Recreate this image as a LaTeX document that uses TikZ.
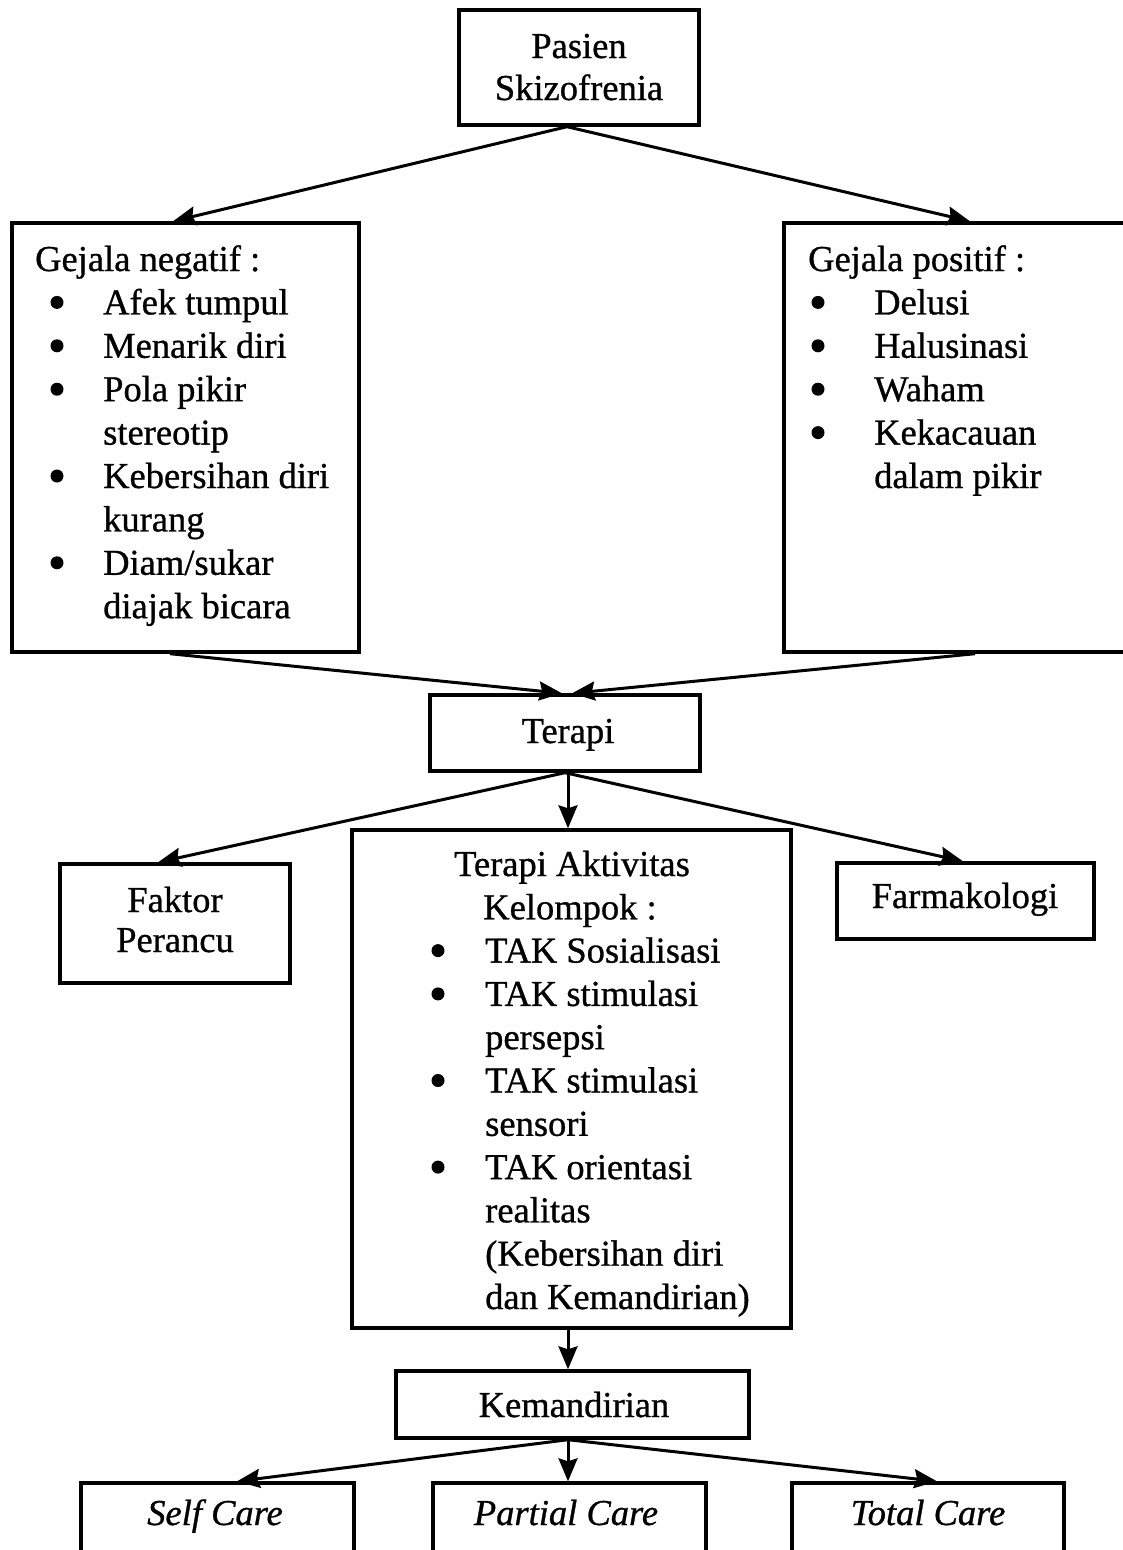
\documentclass[tikz,border=0pt]{standalone}
\usepackage{fontspec}
\setmainfont{Liberation Serif}[FakeBold=0.8]
\usetikzlibrary{arrows.meta}
\newcommand\fsz{\fontsize{36.5}{43.5}\selectfont}
\begin{document}
\begin{tikzpicture}[x=1pt,y=-1pt,
  box/.style={draw, line width=3.4pt, rectangle, inner sep=0pt},
  txt/.style={inner sep=0pt, font=\fsz},
  bul/.style={circle, fill, inner sep=0pt, minimum size=13pt},
  arr/.style={line width=3pt, -{Stealth[length=23pt,width=19pt,inset=3pt]}}]
\useasboundingbox (0,0) rectangle (1123,1550);
\clip (0,0) rectangle (1123,1550);
\fill[white] (0,0) rectangle (1123,1550);
% boxes
\node[box, minimum width=240pt, minimum height=115pt] (pas) at (579,67.5) {};
\node[box, minimum width=347pt, minimum height=429pt] (neg) at (185.5,437.5) {};
\node[box, minimum width=356pt, minimum height=429pt] (pos) at (962,437.5) {};
\node[box, minimum width=270pt, minimum height=76pt] (ter) at (565,733) {};
\node[box, minimum width=230pt, minimum height=119pt] (fak) at (175,923.5) {};
\node[box, minimum width=439pt, minimum height=498pt] (tak) at (571.5,1079) {};
\node[box, minimum width=257pt, minimum height=76pt] (far) at (965.5,901) {};
\node[box, minimum width=353pt, minimum height=67pt] (kem) at (572.5,1404.5) {};
\node[box, minimum width=273pt, minimum height=97pt] (self) at (217.5,1531.5) {};
\node[box, minimum width=273pt, minimum height=97pt] (part) at (569.5,1531.5) {};
\node[box, minimum width=272pt, minimum height=97pt] (tot) at (928,1531.5) {};
% texts
\node[txt, anchor=base] (pas1) at (579,58) {Pasien};
\node[txt, anchor=base] (pas2) at (579,100) {Skizofrenia};
% negatif
\node[txt, anchor=base west] (n0) at (35,271) {Gejala negatif :};
\node[bul] (nb1) at (57,302.4) {};
\node[txt, anchor=base west] (n1) at (103,314.4) {Afek tumpul};
\node[bul] (nb2) at (57,345.8) {};
\node[txt, anchor=base west] (n2) at (103,357.8) {Menarik diri};
\node[bul] (nb3) at (57,389.2) {};
\node[txt, anchor=base west] (n3) at (103,401.2) {Pola pikir};
\node[txt, anchor=base west] (n4) at (103,444.6) {stereotip};
\node[bul] (nb5) at (57,476) {};
\node[txt, anchor=base west] (n5) at (103,488) {Kebersihan diri};
\node[txt, anchor=base west] (n6) at (103,531.4) {kurang};
\node[bul] (nb7) at (57,562.8) {};
\node[txt, anchor=base west] (n7) at (103,574.8) {Diam/sukar};
\node[txt, anchor=base west] (n8) at (103,618.2) {diajak bicara};
% positif
\node[txt, anchor=base west] (p0) at (808,271) {Gejala positif :};
\node[bul] (pb1) at (818,302.4) {};
\node[txt, anchor=base west] (p1) at (874,314.4) {Delusi};
\node[bul] (pb2) at (818,345.8) {};
\node[txt, anchor=base west] (p2) at (874,357.8) {Halusinasi};
\node[bul] (pb3) at (818,389.2) {};
\node[txt, anchor=base west] (p3) at (874,401.2) {Waham};
\node[bul] (pb4) at (818,432.6) {};
\node[txt, anchor=base west] (p4) at (874,444.6) {Kekacauan};
\node[txt, anchor=base west] (p5) at (874,488) {dalam pikir};
% terapi
\node[txt, anchor=base] (tert) at (568,743) {Terapi};
% faktor
\node[txt, anchor=base] (fak1) at (175,912) {Faktor};
\node[txt, anchor=base] (fak2) at (175,952) {Perancu};
% farmakologi
\node[txt, anchor=base] (fart) at (965,908) {Farmakologi};
% TAK
\node[txt, anchor=base] (t0) at (572,876) {Terapi Aktivitas};
\node[txt, anchor=base] (t1) at (570,919.3) {Kelompok :};
\node[bul] (tb2) at (438,950.6) {};
\node[txt, anchor=base west] (t2) at (485,962.6) {TAK Sosialisasi};
\node[bul] (tb3) at (438,993.9) {};
\node[txt, anchor=base west] (t3) at (485,1005.9) {TAK stimulasi};
\node[txt, anchor=base west] (t4) at (485,1049.2) {persepsi};
\node[bul] (tb5) at (438,1080.5) {};
\node[txt, anchor=base west] (t5) at (485,1092.5) {TAK stimulasi};
\node[txt, anchor=base west] (t6) at (485,1135.8) {sensori};
\node[bul] (tb7) at (438,1167.1) {};
\node[txt, anchor=base west] (t7) at (485,1179.1) {TAK orientasi};
\node[txt, anchor=base west] (t8) at (485,1222.4) {realitas};
\node[txt, anchor=base west] (t9) at (485,1265.7) {(Kebersihan diri};
\node[txt, anchor=base west] (t10) at (485,1309) {dan Kemandirian)};
% kemandirian
\node[txt, anchor=base] (kemt) at (574,1417) {Kemandirian};
% care
\node[txt, anchor=base] (selft) at (215,1525) {\itshape Self Care};
\node[txt, anchor=base] (partt) at (566,1525) {\itshape Partial Care};
\node[txt, anchor=base] (tott) at (928,1525) {\itshape Total Care};
% arrows
\draw[arr] ([xshift=-12pt]pas.south) -- ([xshift=-12.5pt]neg.north);
\draw[arr] ([xshift=-12pt]pas.south) -- ([xshift=8pt]pos.north);
\draw[arr] ([xshift=-15.5pt]neg.south) -- ([xshift=-3pt]ter.north);
\draw[arr] ([xshift=13pt]pos.south) -- ([xshift=7pt]ter.north);
\draw[arr] (ter.south) -- ([xshift=-17pt]fak.north);
\draw[arr] ([xshift=3pt]ter.south) -- ([xshift=-3.5pt]tak.north);
\draw[arr] (ter.south) -- ([xshift=-2.5pt]far.north);
\draw[arr] ([xshift=-3.5pt]tak.south) -- ([xshift=-4.5pt]kem.north);
\draw[arr] ([xshift=-4.5pt]kem.south) -- ([xshift=19.5pt]self.north);
\draw[arr] ([xshift=-4.5pt]kem.south) -- ([xshift=-1.5pt]part.north);
\draw[arr] ([xshift=-4.5pt]kem.south) -- ([xshift=9pt]tot.north);
\end{tikzpicture}
\end{document}
